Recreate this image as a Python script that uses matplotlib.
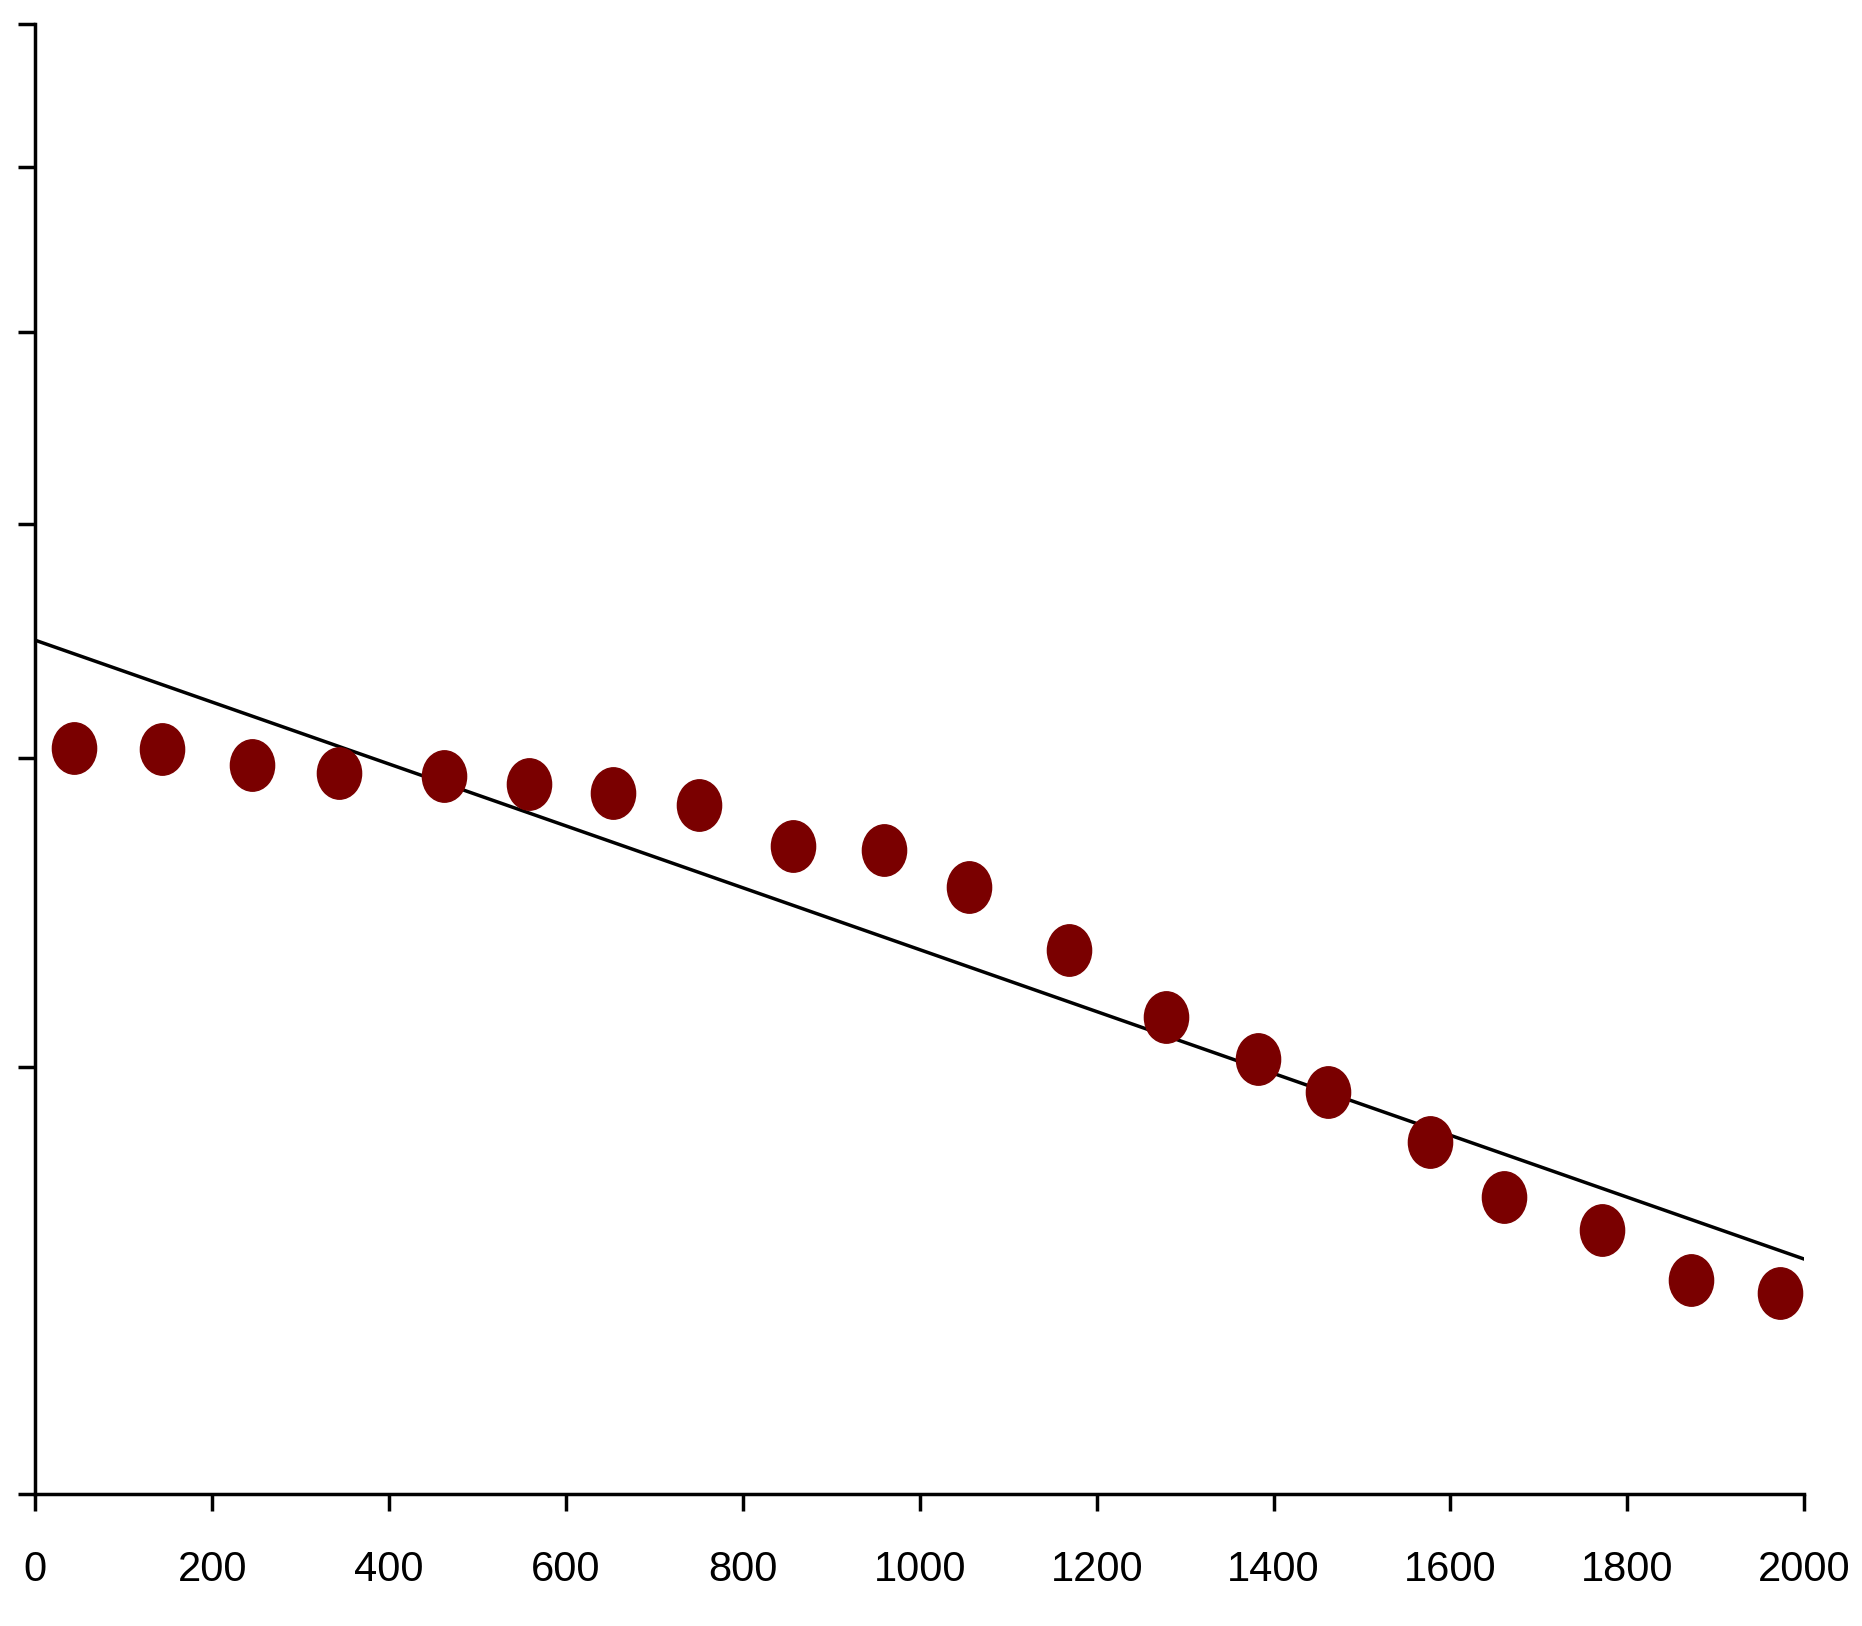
import matplotlib
matplotlib.use("Agg")
import matplotlib.pyplot as plt
from matplotlib.path import Path
from matplotlib.transforms import Affine2D
import numpy as np

x_pts = [44, 143, 245, 343, 462, 558, 653, 750, 857, 959, 1056, 1169,
         1278, 1382, 1461, 1577, 1661, 1771, 1872, 1973]
y_pts = [50.8, 50.7, 49.6, 49.1, 48.9, 48.3, 47.7, 46.9, 44.1, 43.8, 41.3, 37.0,
         32.5, 29.6, 27.4, 24.0, 20.2, 18.0, 14.6, 13.7]
line_x = [0, 2000]
line_y = [58.1, 16.0]
y_ticks = [0, 29.1, 50.1, 66.0, 79.1, 90.3, 100]
x_ticks = list(range(0, 2001, 200))

plt.rcParams['font.family'] = ['Liberation Sans', 'DejaVu Sans']
fig = plt.figure(figsize=(18.62, 16.26), dpi=100)
ax = fig.add_axes([0.019, 0.081, 0.95, 0.904])

ellipse = Path.unit_circle().transformed(Affine2D().scale(0.86, 1.0))
ax.plot(line_x, line_y, color='black', lw=2.5, zorder=2)
ax.plot(x_pts, y_pts, ls='none', marker=ellipse, ms=37, color='#7a0000', zorder=3)

ax.set_xlim(0, 2000)
ax.set_ylim(0, 100)
ax.set_xticks(x_ticks)
ax.set_yticks(y_ticks)
ax.set_yticklabels([])
ax.tick_params(axis='both', direction='out', length=12, width=2.5, labelsize=30, pad=28)
ax.spines['top'].set_visible(False)
ax.spines['right'].set_visible(False)
for s in ('left', 'bottom'):
    ax.spines[s].set_linewidth(2.5)
for lab in ax.get_xticklabels():
    lab.set_fontstretch('condensed')

fig.savefig('out.png', dpi=100)
